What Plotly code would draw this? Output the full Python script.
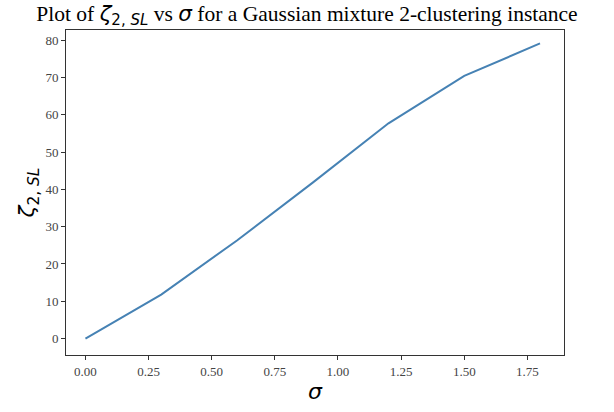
import plotly.graph_objects as go

sigma = [0.0, 0.3, 0.6, 0.9, 1.2, 1.5, 1.8]
zeta = [0.0, 11.8, 26.3, 41.8, 57.7, 70.4, 79.1]

x_ticks = [0.0, 0.25, 0.5, 0.75, 1.0, 1.25, 1.5, 1.75]
x_ticklabels = ["0.00", "0.25", "0.50", "0.75", "1.00", "1.25", "1.50", "1.75"]
y_ticks = [0, 10, 20, 30, 40, 50, 60, 70, 80]
y_ticklabels = [str(v) for v in y_ticks]

MATH = "font-family:'DejaVu Sans'"
zeta_lbl = (f"<span style=\"{MATH}\"><i>ζ</i><sub>2, <i>SL</i></sub></span>")
sigma_lbl = f"<span style=\"{MATH}\"><i>σ</i></span>"

fig = go.Figure()
fig.add_trace(go.Scatter(
    x=sigma, y=zeta, mode="lines",
    line=dict(color="#4682b4", width=2),
    showlegend=False,
))

axis_common = dict(
    showgrid=False, zeroline=False,
    showline=True, linecolor="#333333", linewidth=1, mirror=True,
    ticks="outside", ticklen=4, tickwidth=1, tickcolor="#333333",
    tickfont=dict(family="Liberation Serif", size=13, color="#444444"),
)

fig.update_layout(
    width=614, height=412,
    margin=dict(l=66, r=50, t=30, b=57),
    paper_bgcolor="white", plot_bgcolor="white",
    title=dict(
        text=f"Plot of {zeta_lbl} vs {sigma_lbl} for a Gaussian mixture 2-clustering instance",
        font=dict(family="Liberation Serif", size=21.5, color="black"),
        x=0.5, xanchor="center", y=0.968, yanchor="middle",
    ),
    xaxis=dict(
        range=[-0.077, 1.895],
        tickvals=x_ticks, ticktext=x_ticklabels,
        title=dict(text=sigma_lbl, font=dict(family="DejaVu Sans", size=22, color="black"), standoff=6),
        **axis_common,
    ),
    yaxis=dict(
        range=[-4.4, 82.7],
        tickvals=y_ticks, ticktext=y_ticklabels,
        title=dict(text=zeta_lbl, font=dict(family="DejaVu Sans", size=22, color="black"), standoff=4),
        **axis_common,
    ),
)

fig.write_html("out.html")
